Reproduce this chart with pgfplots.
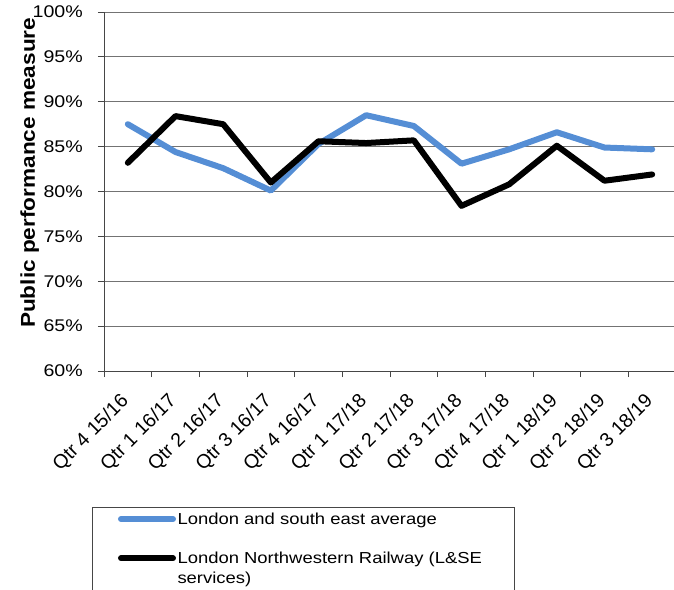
\documentclass[border=0pt]{standalone}
\usepackage{fontspec}
\setmainfont{Liberation Sans}
\newfontfamily\chartfont[FakeStretch=1.16]{Liberation Sans}
\newfontfamily\titlefont[FakeStretch=1.13]{Liberation Sans}
\usepackage{pgfplots}
\usepackage{pgfplotstable}
\pgfplotsset{compat=1.18}

\definecolor{lseblue}{RGB}{85,142,213}
\definecolor{axisgray}{RGB}{70,70,70}
\definecolor{gridgray}{RGB}{115,115,115}

% Public performance measure (%), by quarter
\pgfplotstableread{
q  lse   lnr
0  87.5  83.2
1  84.4  88.4
2  82.6  87.5
3  80.1  81.0
4  85.3  85.6
5  88.5  85.4
6  87.3  85.7
7  83.1  78.4
8  84.7  80.8
9  86.6  85.1
10 84.9  81.2
11 84.7  81.9
}\ppmtable

\begin{document}
\begin{tikzpicture}
\useasboundingbox (0bp,0bp) rectangle (674bp,-590bp);
\begin{axis}[
  at={(104bp,-371bp)}, anchor=south west,
  scale only axis, width=572bp, height=359bp,
  xmin=-0.5, xmax=11.5, ymin=60, ymax=100,
  axis x line*=bottom, axis y line*=left,
  axis line style={-, axisgray, line width=1bp},
  tick align=outside, major tick length=6bp, minor tick length=6bp,
  tick style={axisgray, line width=1bp},
  ytick={60,65,...,100},
  yticklabels={60\%,65\%,70\%,75\%,80\%,85\%,90\%,95\%,100\%},
  ymajorgrids, grid style={gridgray, line width=1bp},
  xtick={0,...,11},
  xticklabels={Qtr 4 15/16,Qtr 1 16/17,Qtr 2 16/17,Qtr 3 16/17,Qtr 4 16/17,Qtr 1 17/18,Qtr 2 17/18,Qtr 3 17/18,Qtr 4 17/18,Qtr 1 18/19,Qtr 2 18/19,Qtr 3 18/19},
  major x tick style={draw=none},
  minor xtick={-0.5,0.5,...,11.5},
  tick label style={inner sep=0pt},
  yticklabel style={font=\chartfont\fontsize{16.9bp}{20bp}\selectfont, anchor=east, xshift=-15bp},
  xticklabel style={font=\fontsize{19.5bp}{22bp}\selectfont, xshift=-8.5bp, yshift=-15bp, rotate=45, anchor=north east},
  ylabel={Public performance measure},
  ylabel style={font=\titlefont\bfseries\fontsize{20bp}{24bp}\selectfont,
    at={(axis description cs:-0.1297,0.552)}, anchor=center},
  legend style={at={(axis description cs:0.02448,-0.3928)}, anchor=north west,
    draw=none, fill=none, inner sep=0pt, outer sep=0pt,
    row sep=25.7bp, column sep=1.5bp,
    font=\chartfont\fontsize{15.9bp}{20.3bp}\selectfont,
    nodes={inner sep=0pt, outer sep=0pt},
    cells={anchor=base west, inner sep=0pt, text height=12bp, text depth=4bp}},
  legend image code/.code={\path (0bp,5bp) -- (52bp,5bp); \draw[#1] (3bp,5bp) -- (49bp,5bp);},
]
\addplot[lseblue, line width=6bp, line join=round, line cap=round] table[x=q, y=lse] {\ppmtable};
\addlegendentry{London and south east average}
\addplot[black, line width=6bp, line join=round, line cap=round] table[x=q, y=lnr] {\ppmtable};
\addlegendentry{\parbox[t]{330bp}{London Northwestern Railway (L\&SE\\services)}}
\end{axis}
\draw[axisgray, line width=1bp] (92bp,-507bp) rectangle (514bp,-620bp);
\end{tikzpicture}
\end{document}
